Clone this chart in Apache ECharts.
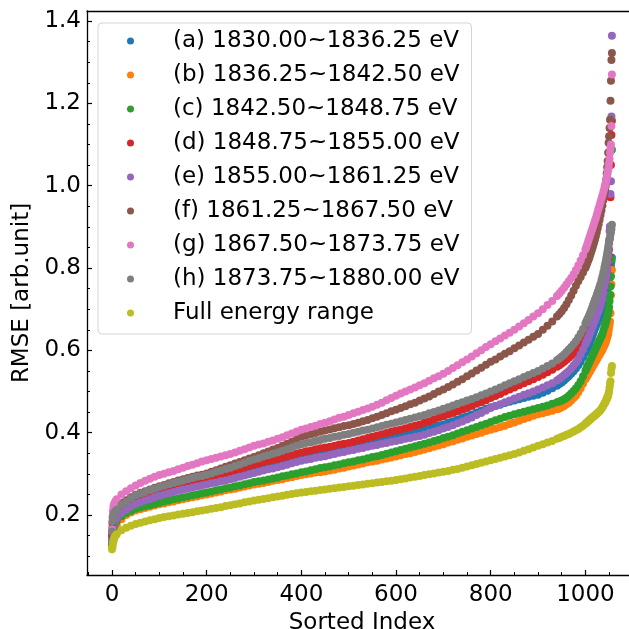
<!DOCTYPE html>
<html>
<head>
<meta charset="utf-8">
<script src="https://cdn.jsdelivr.net/npm/echarts@6/dist/echarts.min.js"></script>
<style>
  html, body { margin: 0; padding: 0; background: #fff; }
  #chart { width: 629px; height: 629px; }
</style>
</head>
<body>
<div id="chart"></div>
<script>
// Sorted sample index at which each RMSE value is plotted
const sortedIndex = [
  0, 1, 2, 3, 4, 5, 7,
  10, 20, 30, 40, 50, 60, 70, 80, 90, 100,
  110, 120, 130, 140, 150, 160, 170, 180, 190, 200,
  210, 220, 230, 240, 250, 260, 270, 280, 290, 300,
  310, 320, 330, 340, 350, 360, 370, 380, 390, 400,
  410, 420, 430, 440, 450, 460, 470, 480, 490, 500,
  510, 520, 530, 540, 550, 560, 570, 580, 590, 600,
  610, 620, 630, 640, 650, 660, 670, 680, 690, 700,
  710, 720, 730, 740, 750, 760, 770, 780, 790, 800,
  810, 820, 830, 840, 850, 860, 870, 880, 890, 900,
  910, 920, 930, 940,
  945, 950, 955, 960, 965, 970, 975, 980, 985, 990, 995, 1000,
  1002, 1004, 1006, 1008, 1010, 1012, 1014, 1016, 1018, 1020,
  1022, 1024, 1026, 1028, 1030, 1032, 1034, 1036, 1038, 1040,
  1041, 1042, 1043, 1044, 1045, 1046, 1047, 1048,
  1049, 1050, 1051, 1052, 1053, 1054, 1055, 1056
];

// RMSE per energy window [arb.unit]
const rmseA = [
  0.14, 0.16, 0.17, 0.18, 0.184, 0.188, 0.192,
  0.197, 0.21, 0.218, 0.225, 0.232, 0.236, 0.24, 0.244, 0.248, 0.252,
  0.255, 0.259, 0.262, 0.265, 0.268, 0.27, 0.273, 0.275, 0.278, 0.28,
  0.283, 0.285, 0.288, 0.29, 0.293, 0.296, 0.3, 0.303, 0.307, 0.31,
  0.313, 0.316, 0.319, 0.322, 0.325, 0.329, 0.332, 0.336, 0.339, 0.343,
  0.346, 0.348, 0.351, 0.353, 0.356, 0.358, 0.361, 0.363, 0.366, 0.368,
  0.37, 0.373, 0.375, 0.378, 0.38, 0.383, 0.385, 0.388, 0.39, 0.393,
  0.395, 0.398, 0.4, 0.403, 0.405, 0.408, 0.411, 0.414, 0.417, 0.42,
  0.424, 0.428, 0.432, 0.436, 0.44, 0.444, 0.449, 0.453, 0.458, 0.462,
  0.465, 0.468, 0.472, 0.475, 0.478, 0.481, 0.484, 0.487, 0.49, 0.492,
  0.497, 0.502, 0.508, 0.514,
  0.518, 0.522, 0.527, 0.532, 0.537, 0.543, 0.549, 0.556, 0.564, 0.572, 0.583, 0.595,
  0.6, 0.605, 0.61, 0.615, 0.621, 0.627, 0.633, 0.64, 0.646, 0.652,
  0.658, 0.664, 0.67, 0.676, 0.682, 0.688, 0.694, 0.70, 0.707, 0.715,
  0.72, 0.725, 0.73, 0.735, 0.74, 0.745, 0.75, 0.755,
  0.76, 0.765, 0.775, 0.785, 0.795, 0.805, 0.815, 0.825
];
const rmseB = [
  0.125, 0.14, 0.15, 0.158, 0.162, 0.165, 0.17,
  0.175, 0.19, 0.2, 0.206, 0.211, 0.214, 0.217, 0.22, 0.223, 0.226,
  0.228, 0.231, 0.233, 0.236, 0.238, 0.241, 0.243, 0.245, 0.248, 0.25,
  0.252, 0.255, 0.257, 0.26, 0.262, 0.264, 0.267, 0.269, 0.272, 0.274,
  0.276, 0.278, 0.28, 0.283, 0.285, 0.287, 0.29, 0.292, 0.295, 0.297,
  0.299, 0.301, 0.303, 0.304, 0.306, 0.308, 0.31, 0.313, 0.315, 0.318,
  0.32, 0.323, 0.325, 0.328, 0.33, 0.332, 0.335, 0.337, 0.34, 0.342,
  0.345, 0.348, 0.35, 0.353, 0.356, 0.359, 0.362, 0.366, 0.369, 0.372,
  0.376, 0.379, 0.383, 0.386, 0.39, 0.393, 0.397, 0.4, 0.404, 0.407,
  0.41, 0.414, 0.417, 0.421, 0.425, 0.429, 0.433, 0.437, 0.441, 0.445,
  0.447, 0.45, 0.453, 0.457,
  0.459, 0.462, 0.465, 0.469, 0.473, 0.478, 0.484, 0.49, 0.498, 0.508, 0.519, 0.53,
  0.534, 0.538, 0.542, 0.546, 0.55, 0.554, 0.558, 0.562, 0.566, 0.57,
  0.574, 0.578, 0.582, 0.586, 0.59, 0.594, 0.598, 0.602, 0.607, 0.612,
  0.615, 0.618, 0.621, 0.625, 0.628, 0.632, 0.636, 0.64,
  0.647, 0.655, 0.662, 0.67, 0.69, 0.734, 0.76, 0.795
];
const rmseC = [
  0.13, 0.15, 0.16, 0.168, 0.172, 0.176, 0.181,
  0.185, 0.197, 0.205, 0.21, 0.215, 0.218, 0.221, 0.224, 0.227, 0.23,
  0.233, 0.235, 0.238, 0.24, 0.243, 0.245, 0.248, 0.25, 0.253, 0.255,
  0.257, 0.26, 0.262, 0.265, 0.267, 0.27, 0.272, 0.275, 0.277, 0.28,
  0.282, 0.284, 0.286, 0.289, 0.291, 0.294, 0.296, 0.299, 0.301, 0.304,
  0.306, 0.309, 0.311, 0.314, 0.316, 0.318, 0.321, 0.323, 0.326, 0.328,
  0.33, 0.333, 0.335, 0.338, 0.341, 0.343, 0.346, 0.349, 0.352, 0.355,
  0.358, 0.361, 0.364, 0.367, 0.37, 0.373, 0.376, 0.38, 0.383, 0.387,
  0.39, 0.394, 0.398, 0.402, 0.406, 0.41, 0.414, 0.418, 0.422, 0.426,
  0.43, 0.434, 0.438, 0.441, 0.445, 0.448, 0.451, 0.454, 0.457, 0.46,
  0.463, 0.466, 0.47, 0.474,
  0.476, 0.478, 0.481, 0.485, 0.49, 0.495, 0.501, 0.508, 0.516, 0.525, 0.537, 0.55,
  0.555, 0.56, 0.565, 0.57, 0.575, 0.58, 0.585, 0.59, 0.595, 0.60,
  0.605, 0.61, 0.615, 0.62, 0.625, 0.63, 0.635, 0.64, 0.648, 0.657,
  0.66, 0.664, 0.668, 0.672, 0.676, 0.68, 0.685, 0.69,
  0.697, 0.705, 0.72, 0.735, 0.755, 0.78, 0.82, 1.087
];
const rmseD = [
  0.15, 0.17, 0.18, 0.19, 0.194, 0.197, 0.201,
  0.205, 0.218, 0.225, 0.233, 0.24, 0.245, 0.249, 0.254, 0.258, 0.262,
  0.265, 0.268, 0.271, 0.274, 0.277, 0.28, 0.283, 0.285, 0.288, 0.29,
  0.293, 0.296, 0.299, 0.302, 0.305, 0.308, 0.312, 0.315, 0.319, 0.322,
  0.325, 0.328, 0.331, 0.334, 0.336, 0.339, 0.342, 0.345, 0.349, 0.352,
  0.355, 0.357, 0.36, 0.362, 0.364, 0.366, 0.368, 0.371, 0.373, 0.375,
  0.378, 0.381, 0.384, 0.387, 0.39, 0.393, 0.396, 0.399, 0.402, 0.405,
  0.408, 0.411, 0.414, 0.417, 0.42, 0.424, 0.428, 0.432, 0.436, 0.44,
  0.444, 0.448, 0.452, 0.456, 0.46, 0.465, 0.47, 0.474, 0.479, 0.484,
  0.489, 0.494, 0.5, 0.505, 0.51, 0.515, 0.52, 0.525, 0.53, 0.535,
  0.541, 0.547, 0.553, 0.56,
  0.564, 0.568, 0.572, 0.577, 0.582, 0.587, 0.592, 0.598, 0.606, 0.615, 0.627, 0.64,
  0.645, 0.65, 0.655, 0.66, 0.665, 0.67, 0.675, 0.68, 0.685, 0.69,
  0.695, 0.70, 0.706, 0.712, 0.718, 0.725, 0.732, 0.74, 0.747, 0.755,
  0.76, 0.767, 0.775, 0.783, 0.791, 0.80, 0.81, 0.82,
  0.832, 0.845, 0.87, 0.9, 0.972, 1.05, 1.123, 1.158
];
const rmseE = [
  0.14, 0.16, 0.17, 0.178, 0.182, 0.185, 0.189,
  0.193, 0.205, 0.213, 0.22, 0.227, 0.231, 0.235, 0.239, 0.243, 0.247,
  0.25, 0.253, 0.256, 0.259, 0.262, 0.264, 0.267, 0.269, 0.272, 0.274,
  0.277, 0.279, 0.282, 0.284, 0.287, 0.29, 0.293, 0.296, 0.299, 0.302,
  0.305, 0.308, 0.311, 0.313, 0.316, 0.319, 0.322, 0.326, 0.329, 0.332,
  0.334, 0.336, 0.339, 0.341, 0.343, 0.346, 0.348, 0.351, 0.353, 0.356,
  0.358, 0.361, 0.363, 0.366, 0.368, 0.37, 0.373, 0.375, 0.378, 0.38,
  0.382, 0.385, 0.387, 0.39, 0.392, 0.395, 0.399, 0.402, 0.406, 0.41,
  0.414, 0.418, 0.423, 0.427, 0.432, 0.437, 0.443, 0.448, 0.454, 0.46,
  0.465, 0.469, 0.474, 0.478, 0.483, 0.487, 0.492, 0.496, 0.5, 0.505,
  0.51, 0.515, 0.52, 0.527,
  0.531, 0.535, 0.54, 0.545, 0.55, 0.556, 0.563, 0.57, 0.579, 0.59, 0.602, 0.615,
  0.62, 0.625, 0.63, 0.636, 0.642, 0.648, 0.654, 0.66, 0.666, 0.672,
  0.678, 0.685, 0.691, 0.697, 0.704, 0.71, 0.719, 0.728, 0.74, 0.755,
  0.762, 0.768, 0.775, 0.783, 0.791, 0.80, 0.815, 0.83,
  0.845, 0.86, 0.89, 0.90, 0.98, 1.011, 1.168, 1.364
];
const rmseF = [
  0.15, 0.18, 0.195, 0.2, 0.205, 0.208, 0.214,
  0.218, 0.229, 0.236, 0.243, 0.249, 0.254, 0.258, 0.262, 0.266, 0.27,
  0.273, 0.277, 0.28, 0.284, 0.287, 0.29, 0.293, 0.296, 0.298, 0.301,
  0.305, 0.309, 0.313, 0.317, 0.321, 0.325, 0.329, 0.333, 0.337, 0.341,
  0.345, 0.35, 0.354, 0.359, 0.363, 0.368, 0.373, 0.378, 0.384, 0.39,
  0.393, 0.396, 0.399, 0.402, 0.405, 0.408, 0.411, 0.413, 0.416, 0.418,
  0.421, 0.424, 0.428, 0.431, 0.435, 0.439, 0.443, 0.447, 0.452, 0.456,
  0.46, 0.464, 0.469, 0.473, 0.478, 0.483, 0.488, 0.494, 0.5, 0.505,
  0.511, 0.517, 0.524, 0.53, 0.537, 0.544, 0.551, 0.558, 0.565, 0.572,
  0.578, 0.585, 0.592, 0.598, 0.605, 0.612, 0.619, 0.626, 0.633, 0.64,
  0.65, 0.66, 0.67, 0.682,
  0.688, 0.695, 0.703, 0.712, 0.722, 0.733, 0.745, 0.757, 0.768, 0.778, 0.789, 0.80,
  0.806, 0.812, 0.818, 0.824, 0.831, 0.838, 0.845, 0.852, 0.86, 0.868,
  0.877, 0.886, 0.896, 0.906, 0.917, 0.929, 0.94, 0.952, 0.965, 0.978,
  0.985, 0.992, 1.0, 1.015, 1.03, 1.045, 1.06, 1.08,
  1.104, 1.12, 1.14, 1.16, 1.206, 1.255, 1.305, 1.322
];
const rmseG = [
  0.165, 0.195, 0.21, 0.22, 0.225, 0.228, 0.233,
  0.238, 0.25, 0.258, 0.265, 0.272, 0.278, 0.283, 0.288, 0.293, 0.297,
  0.3, 0.304, 0.307, 0.311, 0.315, 0.319, 0.322, 0.326, 0.33, 0.333,
  0.336, 0.339, 0.342, 0.345, 0.348, 0.352, 0.356, 0.36, 0.364, 0.368,
  0.371, 0.374, 0.378, 0.381, 0.385, 0.389, 0.394, 0.398, 0.403, 0.407,
  0.41, 0.414, 0.417, 0.421, 0.424, 0.428, 0.432, 0.436, 0.439, 0.443,
  0.447, 0.451, 0.455, 0.459, 0.463, 0.468, 0.473, 0.479, 0.484, 0.49,
  0.495, 0.5, 0.505, 0.51, 0.515, 0.52, 0.526, 0.532, 0.537, 0.543,
  0.55, 0.557, 0.564, 0.571, 0.578, 0.585, 0.593, 0.6, 0.608, 0.615,
  0.622, 0.629, 0.636, 0.643, 0.65, 0.658, 0.666, 0.674, 0.682, 0.69,
  0.7, 0.71, 0.72, 0.732,
  0.738, 0.745, 0.752, 0.76, 0.768, 0.776, 0.785, 0.795, 0.806, 0.818, 0.831, 0.845,
  0.851, 0.858, 0.865, 0.872, 0.879, 0.886, 0.893, 0.90, 0.907, 0.914,
  0.921, 0.929, 0.937, 0.945, 0.953, 0.961, 0.969, 0.977, 0.985, 0.993,
  0.998, 1.003, 1.008, 1.013, 1.019, 1.025, 1.031, 1.038,
  1.045, 1.055, 1.065, 1.08, 1.09, 1.10, 1.145, 1.27
];
const rmseH = [
  0.16, 0.185, 0.195, 0.2, 0.203, 0.205, 0.209,
  0.213, 0.225, 0.232, 0.24, 0.248, 0.252, 0.256, 0.26, 0.264, 0.268,
  0.271, 0.275, 0.278, 0.281, 0.284, 0.287, 0.29, 0.293, 0.295, 0.298,
  0.301, 0.305, 0.308, 0.312, 0.315, 0.319, 0.323, 0.327, 0.331, 0.335,
  0.338, 0.342, 0.345, 0.349, 0.352, 0.356, 0.36, 0.364, 0.368, 0.372,
  0.375, 0.377, 0.38, 0.382, 0.385, 0.387, 0.39, 0.392, 0.395, 0.397,
  0.4, 0.402, 0.405, 0.407, 0.41, 0.413, 0.416, 0.419, 0.422, 0.425,
  0.428, 0.431, 0.434, 0.437, 0.44, 0.443, 0.447, 0.45, 0.454, 0.458,
  0.462, 0.466, 0.47, 0.474, 0.478, 0.482, 0.486, 0.491, 0.495, 0.5,
  0.505, 0.51, 0.515, 0.52, 0.525, 0.53, 0.535, 0.54, 0.545, 0.55,
  0.556, 0.562, 0.568, 0.576,
  0.58, 0.585, 0.59, 0.596, 0.602, 0.608, 0.615, 0.622, 0.631, 0.641, 0.652, 0.665,
  0.67, 0.675, 0.68, 0.685, 0.691, 0.697, 0.703, 0.71, 0.716, 0.722,
  0.728, 0.735, 0.741, 0.748, 0.755, 0.762, 0.771, 0.78, 0.79, 0.80,
  0.805, 0.81, 0.815, 0.822, 0.828, 0.835, 0.842, 0.85,
  0.857, 0.865, 0.87, 0.875, 0.882, 0.888, 0.895, 0.905
];
const rmseFull = [
  0.117, 0.122, 0.13, 0.137, 0.141, 0.145, 0.149,
  0.153, 0.163, 0.169, 0.174, 0.178, 0.181, 0.184, 0.187, 0.19, 0.193,
  0.195, 0.197, 0.199, 0.201, 0.203, 0.205, 0.207, 0.209, 0.211, 0.213,
  0.215, 0.217, 0.219, 0.222, 0.224, 0.226, 0.228, 0.231, 0.233, 0.235,
  0.237, 0.239, 0.241, 0.243, 0.245, 0.247, 0.249, 0.251, 0.253, 0.255,
  0.256, 0.258, 0.259, 0.261, 0.262, 0.264, 0.265, 0.267, 0.268, 0.27,
  0.271, 0.273, 0.274, 0.276, 0.277, 0.279, 0.28, 0.282, 0.283, 0.285,
  0.287, 0.289, 0.291, 0.293, 0.295, 0.297, 0.299, 0.301, 0.303, 0.305,
  0.307, 0.31, 0.312, 0.315, 0.318, 0.321, 0.324, 0.327, 0.33, 0.333,
  0.336, 0.339, 0.342, 0.345, 0.348, 0.352, 0.356, 0.36, 0.364, 0.368,
  0.372, 0.376, 0.38, 0.385,
  0.387, 0.39, 0.392, 0.395, 0.397, 0.40, 0.403, 0.406, 0.409, 0.413, 0.417, 0.422,
  0.424, 0.426, 0.428, 0.43, 0.432, 0.434, 0.436, 0.438, 0.44, 0.442,
  0.444, 0.446, 0.448, 0.45, 0.452, 0.455, 0.458, 0.462, 0.466, 0.47,
  0.472, 0.474, 0.477, 0.48, 0.482, 0.485, 0.487, 0.49,
  0.495, 0.50, 0.51, 0.518, 0.525, 0.545, 0.555, 0.562
];

const seriesNames = [
  '(a) 1830.00~1836.25 eV',
  '(b) 1836.25~1842.50 eV',
  '(c) 1842.50~1848.75 eV',
  '(d) 1848.75~1855.00 eV',
  '(e) 1855.00~1861.25 eV',
  '(f) 1861.25~1867.50 eV',
  '(g) 1867.50~1873.75 eV',
  '(h) 1873.75~1880.00 eV',
  'Full energy range'
];
const seriesValues = [rmseA, rmseB, rmseC, rmseD, rmseE, rmseF, rmseG, rmseH, rmseFull];
const seriesColors = ['#1f77b4', '#ff7f0e', '#2ca02c', '#d62728', '#9467bd',
                      '#8c564b', '#e377c2', '#7f7f7f', '#bcbd22'];

// Tick positions
const xMajorTicks = [0, 200, 400, 600, 800, 1000];
const xMinorTicks = [-50, 50, 100, 150, 250, 300, 350, 450, 500, 550, 650, 700, 750, 850, 900, 950, 1050, 1100];
const yMajorTicks = [0.2, 0.4, 0.6, 0.8, 1.0, 1.2, 1.4];
const yMinorTicks = [0.1, 0.15, 0.25, 0.3, 0.35, 0.45, 0.5, 0.55, 0.65, 0.7, 0.75,
                     0.85, 0.9, 0.95, 1.05, 1.1, 1.15, 1.25, 1.3, 1.35];

const X_MIN = -52.8, X_MAX = 1109;
const Y_MIN = 0.0543, Y_MAX = 1.4243;
const FONT = 'DejaVu Sans';
const AXIS_COLOR = '#000';

const chart = echarts.init(document.getElementById('chart'), null, { renderer: 'canvas' });

const series = seriesNames.map((name, i) => ({
  name: name,
  type: 'scatter',
  xAxisIndex: 0,
  yAxisIndex: 0,
  symbol: 'circle',
  symbolSize: 8,
  itemStyle: { color: seriesColors[i], opacity: 1 },
  emphasis: { disabled: true },
  animation: false,
  data: sortedIndex.map((x, k) => [x, seriesValues[i][k]])
}));

const option = {
  backgroundColor: '#fff',
  animation: false,
  grid: { left: 87, top: 11, width: 550, height: 564, containLabel: false, outerBoundsMode: 'none' },
  xAxis: [
    {
      type: 'value', min: X_MIN, max: X_MAX, position: 'bottom',
      name: 'Sorted Index', nameLocation: 'middle', nameGap: 32,
      nameTextStyle: { fontFamily: FONT, fontSize: 23, color: '#000' },
      axisLine: { show: true, onZero: false, lineStyle: { color: AXIS_COLOR, width: 1.3 } },
      axisTick: { show: true, inside: true, length: 5, customValues: xMajorTicks,
                  lineStyle: { color: AXIS_COLOR, width: 1.2 } },
      axisLabel: { show: true, customValues: xMajorTicks, margin: 9,
                   formatter: v => String(Math.round(v)),
                   fontFamily: FONT, fontSize: 23, color: '#000' },
      splitLine: { show: false }
    },
    {
      type: 'value', min: X_MIN, max: X_MAX, position: 'bottom',
      axisLine: { show: false, onZero: false },
      axisTick: { show: true, inside: true, length: 3, customValues: xMinorTicks,
                  lineStyle: { color: AXIS_COLOR, width: 1 } },
      axisLabel: { show: false },
      splitLine: { show: false }
    },
    {
      type: 'value', min: X_MIN, max: X_MAX, position: 'top',
      axisLine: { show: true, onZero: false, lineStyle: { color: AXIS_COLOR, width: 1.3 } },
      axisTick: { show: false },
      axisLabel: { show: false },
      splitLine: { show: false }
    }
  ],
  yAxis: [
    {
      type: 'value', min: Y_MIN, max: Y_MAX, position: 'left',
      name: 'RMSE [arb.unit]', nameLocation: 'middle', nameGap: 47,
      nameTextStyle: { fontFamily: FONT, fontSize: 23, color: '#000' },
      axisLine: { show: true, onZero: false, lineStyle: { color: AXIS_COLOR, width: 1.3 } },
      axisTick: { show: true, inside: true, length: 5, customValues: yMajorTicks,
                  lineStyle: { color: AXIS_COLOR, width: 1.2 } },
      axisLabel: { show: true, customValues: yMajorTicks, margin: 6,
                   formatter: v => v.toFixed(1),
                   fontFamily: FONT, fontSize: 23, color: '#000' },
      splitLine: { show: false }
    },
    {
      type: 'value', min: Y_MIN, max: Y_MAX, position: 'left',
      axisLine: { show: false, onZero: false },
      axisTick: { show: true, inside: true, length: 3, customValues: yMinorTicks,
                  lineStyle: { color: AXIS_COLOR, width: 1 } },
      axisLabel: { show: false },
      splitLine: { show: false }
    }
  ],
  legend: {
    show: true,
    orient: 'vertical',
    left: 98,
    top: 23,
    padding: [5, 12, 8, 29],
    itemGap: 8,
    itemWidth: 7,
    itemHeight: 7,
    icon: 'circle',
    backgroundColor: 'rgba(255,255,255,0.8)',
    borderColor: '#d4d4d4',
    borderWidth: 1,
    borderRadius: 4,
    selectedMode: false,
    textStyle: { fontFamily: FONT, fontSize: 23, color: '#000', lineHeight: 26,
                 padding: [0, 0, 0, 34] },
    data: seriesNames
  },
  series: series
};

chart.setOption(option);
</script>
</body>
</html>
